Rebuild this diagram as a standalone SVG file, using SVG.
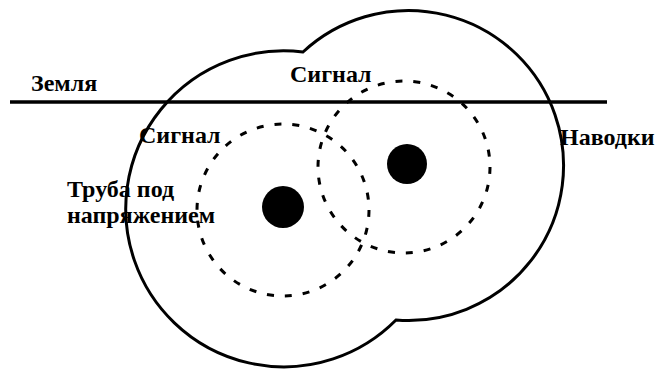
<svg xmlns="http://www.w3.org/2000/svg" width="658" height="369" viewBox="0 0 658 369">
<style>
.outline{fill:none;stroke:#000;stroke-width:3}
.ground{fill:none;stroke:#000;stroke-width:3.5}
.zone{fill:none;stroke:#000;stroke-width:3;stroke-dasharray:7 11}
.pipe{fill:#000}
.lbl{font-family:"Liberation Serif","Times New Roman",serif;font-weight:bold;font-size:24px;fill:#000}
</style>
<rect width="658" height="369" fill="#fff"/>
<g id="field">
<path class="outline" d="M303,52 A155,155 0 1 1 396,320 A158,158 0 1 1 303,52 Z"/>
</g>
<g id="ground">
<line class="ground" x1="10" y1="102" x2="607" y2="102"/>
<text class="lbl" x="31" y="91">Земля</text>
</g>
<g id="zones">
<circle class="zone" cx="283" cy="210" r="86"/>
<circle class="zone" cx="404" cy="167" r="86"/>
</g>
<g id="pipe1">
<circle class="pipe" cx="283" cy="207" r="21"/>
</g>
<g id="pipe2">
<circle class="pipe" cx="407" cy="164" r="20"/>
</g>
<g id="labels">
<text class="lbl" x="290" y="82">Сигнал</text>
<text class="lbl" x="139" y="143">Сигнал</text>
<text class="lbl" x="67" y="197">Труба под</text>
<text class="lbl" x="67" y="223">напряжением</text>
<text class="lbl" x="560" y="145">Наводки</text>
</g>
</svg>
